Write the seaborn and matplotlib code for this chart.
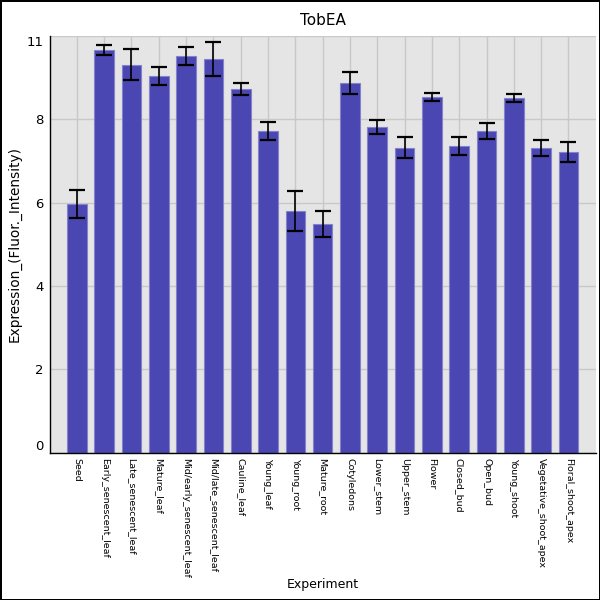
import numpy as np
import pandas as pd
import matplotlib
matplotlib.use("Agg")
import matplotlib.pyplot as plt
import seaborn as sns

categories = ["Seed", "Early_senescent_leaf", "Late_senescent_leaf", "Mature_leaf",
              "Mid/early_senescent_leaf", "Mid/late_senescent_leaf", "Cauline_leaf",
              "Young_leaf", "Young_root", "Mature_root", "Cotyledons", "Lower_stem",
              "Upper_stem", "Flower", "Closed_bud", "Open_bud", "Young_shoot",
              "Vegetative_shoot_apex", "Floral_shoot_apex"]
values = [5.96, 9.66, 9.30, 9.03, 9.51, 9.44, 8.72, 7.71, 5.80, 5.49,
          8.87, 7.81, 7.31, 8.53, 7.36, 7.71, 8.51, 7.31, 7.21]
errors = [0.33, 0.12, 0.37, 0.22, 0.22, 0.40, 0.15, 0.22, 0.48, 0.31,
          0.26, 0.16, 0.25, 0.10, 0.21, 0.19, 0.10, 0.20, 0.23]
ytick_values = [0, 2, 4, 6, 8, 10]
ytick_labels = ["0", "2", "4", "6", "8", "11"]

df = pd.DataFrame({"Experiment": categories, "Expression": values})

sns.set_theme(style="white")
plt.rcParams['font.family'] = ['DejaVu Sans']
plt.rcParams['text.color'] = 'black'
plt.rcParams['axes.labelcolor'] = 'black'
plt.rcParams['xtick.color'] = 'black'
plt.rcParams['ytick.color'] = 'black'

fig = plt.figure(figsize=(6, 6), dpi=100)
fig.patch.set_facecolor("white")
fig.patch.set_edgecolor("black")
fig.patch.set_linewidth(2)
ax = fig.add_axes([0.0825, 0.2455, 0.9105, 0.695])
ax.set_facecolor("#e5e5e5")

sns.barplot(data=df, x="Experiment", y="Expression", color="#4a46b2",
            saturation=1, width=0.72, edgecolor="#8482cc", linewidth=0.8,
            ax=ax, zorder=2)
pos = np.arange(len(categories))
ax.errorbar(pos, values, yerr=errors, fmt="none", ecolor="black",
            elinewidth=1.2, capsize=5.8, capthick=1.6, zorder=3)

ax.set_xlim(-1, len(categories))
ax.set_ylim(0, 10)
ax.set_yticks(ytick_values)
ax.set_yticklabels(ytick_labels)
for lab, v in zip(ax.get_yticklabels(), ytick_values):
    if v == 0:
        lab.set_va("bottom")
    elif v == ytick_values[-1]:
        lab.set_va("top")
ax.set_xticks(pos)
ax.set_xticklabels(categories, rotation=270, fontsize=6.8, va="top", ha="center")

ax.grid(True, color="#c8c8c8", linewidth=1)
ax.set_axisbelow(True)
ax.tick_params(axis="both", length=0, pad=4, colors="black")
ax.tick_params(axis="y", labelsize=9.5)

for s in ["top", "right"]:
    ax.spines[s].set_visible(False)
ax.spines["left"].set_color("black")
ax.spines["bottom"].set_color("black")
ax.spines["left"].set_linewidth(1)
ax.spines["bottom"].set_linewidth(1)

ax.set_title("TobEA", fontsize=11, pad=8, color="black")
ax.set_xlabel("Experiment", fontsize=9, color="black")
ax.xaxis.set_label_coords(0.5, -0.317)
ax.xaxis.label.set_va("center")
ax.set_ylabel("Expression_(Fluor._Intensity)", fontsize=9.8, color="black")

fig.savefig("out.png", dpi=100)
